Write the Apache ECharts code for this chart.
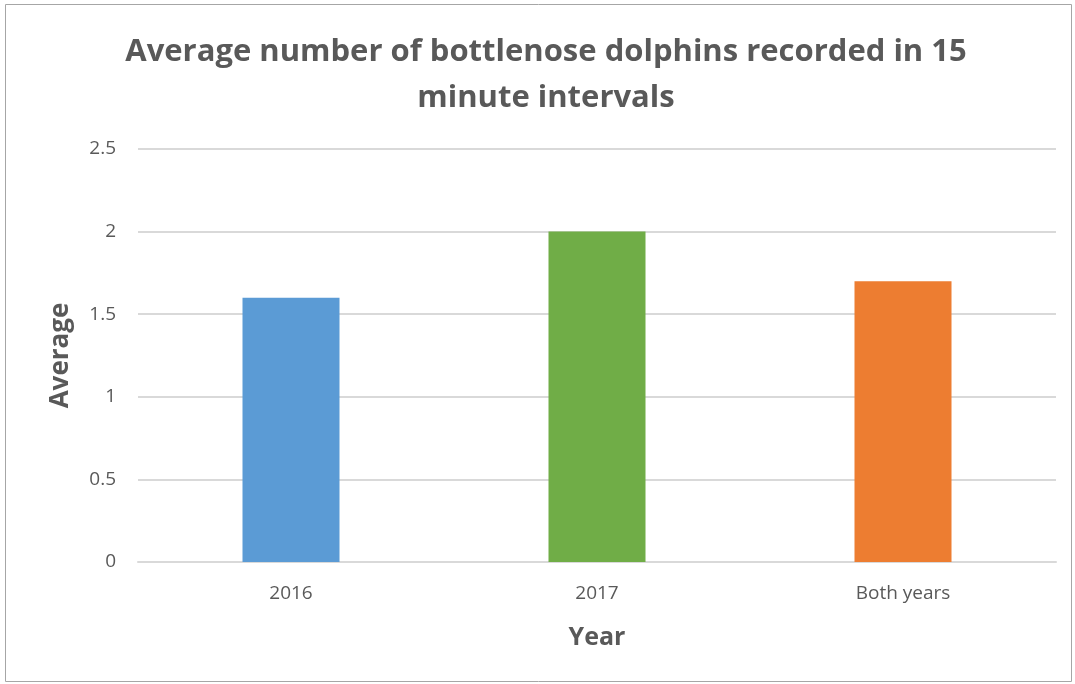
<!DOCTYPE html>
<html><head><meta charset="utf-8">
<script src="https://cdn.jsdelivr.net/npm/echarts@6/dist/echarts.min.js"></script>
<style>html,body{margin:0;padding:0;background:#fff}#c{width:1075px;height:684px}</style>
</head><body><div id="c"></div>
<script>
const categories = ['2016', '2017', 'Both years'];
const averages = [1.6, 2.0, 1.7];
const barColors = ['#5B9BD5', '#70AD47', '#ED7D31'];
const yTicks = [0, 0.5, 1, 1.5, 2, 2.5];

const chart = echarts.init(document.getElementById('c'), null, {renderer: 'canvas'});
const F = '"Open Sans", "Noto Sans", sans-serif';
chart.setOption({
  animation: false,
  backgroundColor: '#fff',
  title: {
    text: 'Average number of bottlenose dolphins recorded in 15\nminute intervals',
    left: 541, top: 24, textAlign: 'center',
    textStyle: {fontFamily: F, fontSize: 31, fontWeight: 'bold', color: '#595959', lineHeight: 46}
  },
  graphic: [{
    type: 'rect', shape: {x: 5.5, y: 4.5, width: 1066, height: 677},
    style: {fill: 'none', stroke: '#A6A6A6', lineWidth: 1}, silent: true, z: 100
  }],
  grid: {left: 138, right: 19, top: 149, bottom: 122, containLabel: false},
  xAxis: {
    type: 'category', data: categories,
    axisLine: {lineStyle: {color: '#D9D9D9', width: 2}},
    axisTick: {show: false},
    axisLabel: {fontFamily: F, fontSize: 19, color: '#595959', margin: 22},
    name: 'Year', nameLocation: 'middle', nameGap: 63,
    nameTextStyle: {fontFamily: F, fontSize: 25, fontWeight: 'bold', color: '#595959'}
  },
  yAxis: {
    type: 'value', min: yTicks[0], max: yTicks[yTicks.length - 1], interval: 0.5,
    axisLine: {show: false}, axisTick: {show: false},
    splitLine: {lineStyle: {color: '#D9D9D9', width: 2}},
    axisLabel: {fontFamily: F, fontSize: 19, color: '#595959', margin: 22},
    name: 'Average', nameLocation: 'middle', nameGap: 64, nameRotate: 90,
    nameTextStyle: {fontFamily: F, fontSize: 26, fontWeight: 'bold', color: '#595959'}
  },
  series: [{
    type: 'bar', barWidth: '31.7%',
    data: averages.map((v, i) => ({value: v, itemStyle: {color: barColors[i]}}))
  }]
});
</script></body></html>
